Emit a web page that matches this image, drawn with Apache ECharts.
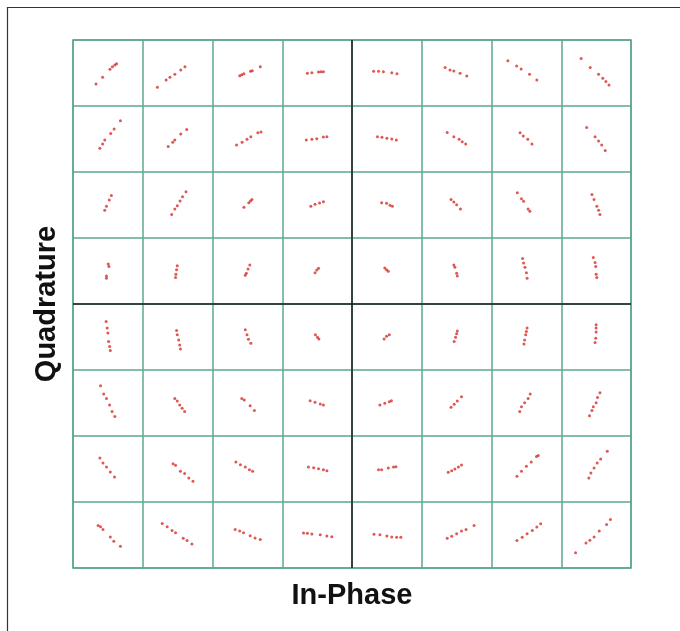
<!DOCTYPE html>
<html>
<head>
<meta charset="utf-8">
<script src="https://cdn.jsdelivr.net/npm/echarts@6/dist/echarts.min.js"></script>
<style>html,body{margin:0;padding:0;background:#fff}#c{width:680px;height:631px}</style>
</head>
<body>
<div id="c"></div>
<script>
// constellation levels (I and Q)
var levels = [-7, -5, -3, -1, 1, 3, 5, 7];
// per-row point offsets [dI, dQ], one list per cell (left to right)
var rowQ7 = [
  [[-0.34,-0.33],[-0.15,-0.13],[0.06,0.11],[0.13,0.19],[0.20,0.24],[0.25,0.28]],
  [[-0.58,-0.43],[-0.33,-0.21],[-0.22,-0.13],[-0.08,-0.04],[0.09,0.09],[0.21,0.19]],
  [[-0.22,-0.08],[-0.16,-0.05],[-0.10,-0.02],[0.09,0.05],[0.14,0.07],[0.37,0.19]],
  [[-0.28,-0.01],[-0.15,0.01],[0.04,0.03],[0.11,0.04],[0.18,0.04]],
  [[-0.38,0.05],[-0.24,0.05],[-0.10,0.04],[0.14,0.01],[0.29,-0.02]],
  [[-0.33,0.17],[-0.19,0.09],[-0.08,0.06],[0.10,-0.01],[0.29,-0.09]],
  [[-0.53,0.37],[-0.28,0.21],[-0.15,0.12],[0.09,-0.04],[0.30,-0.21]],
  [[-0.43,0.44],[-0.17,0.17],[0.07,-0.04],[0.19,-0.16],[0.28,-0.26],[0.37,-0.36]]
];
var rowQ5 = [
  [[-0.23,-0.28],[-0.15,-0.15],[-0.09,-0.03],[0.08,0.17],[0.18,0.30],[0.36,0.55]],
  [[-0.27,-0.23],[-0.14,-0.10],[-0.08,-0.03],[0.09,0.15],[0.26,0.29]],
  [[-0.31,-0.18],[-0.15,-0.10],[-0.01,-0.01],[0.10,0.07],[0.30,0.19],[0.39,0.21]],
  [[-0.31,-0.03],[-0.15,-0.01],[-0.01,0.01],[0.18,0.06],[0.28,0.07]],
  [[-0.27,0.07],[-0.14,0.05],[0,0.02],[0.14,0],[0.27,-0.03]],
  [[-0.27,0.20],[-0.08,0.07],[0.07,-0.01],[0.16,-0.08],[0.26,-0.15]],
  [[-0.18,0.19],[-0.09,0.09],[0.04,-0.01],[0.16,-0.15]],
  [[-0.27,0.35],[-0.03,0.07],[0.07,-0.06],[0.16,-0.18],[0.26,-0.35]]
];
var rowQ3 = [
  [[-0.09,-0.16],[-0.04,-0.04],[0.04,0.15],[0.10,0.29]],
  [[-0.17,-0.29],[-0.08,-0.12],[-0.01,-0.02],[0.07,0.12],[0.14,0.25],[0.24,0.40]],
  [[-0.10,-0.07],[0.04,0.07],[0.09,0.12],[0.13,0.17]],
  [[-0.18,-0.04],[-0.06,0.02],[0.07,0.06],[0.18,0.10]],
  [[-0.15,0.07],[-0.01,0.05],[0.09,-0.01],[0.16,-0.04]],
  [[-0.16,0.17],[-0.08,0.09],[0,0.01],[0.11,-0.12]],
  [[-0.26,0.37],[-0.14,0.19],[-0.08,0.11],[0.05,-0.12],[0.10,-0.19]],
  [[-0.12,0.32],[-0.06,0.17],[0.02,-0.04],[0.07,-0.16],[0.11,-0.29]]
];
var rowQ1 = [
  [[0.01,0.21],[0.03,0.14],[-0.04,-0.15],[-0.04,-0.22]],
  [[-0.01,0.16],[-0.03,0.04],[-0.05,-0.10],[-0.06,-0.20]],
  [[0.07,0.18],[0.02,0.06],[-0.03,-0.07],[-0.06,-0.13]],
  [[-0.06,-0.05],[-0.01,0.03],[0.04,0.08]],
  [[-0.06,0.09],[-0.01,0.04],[0.04,-0.01]],
  [[-0.08,0.18],[-0.05,0.11],[0,-0.07],[0.02,-0.15]],
  [[-0.11,0.38],[-0.08,0.24],[-0.04,0.11],[0,-0.05],[0.02,-0.22]],
  [[-0.08,0.41],[-0.03,0.26],[-0.01,0.14],[0,-0.10],[0.02,-0.20]]
];
var rowQm1 = [
  [[-0.05,0.47],[-0.02,0.27],[0,0.12],[0.02,-0.14],[0.05,-0.29],[0.07,-0.41]],
  [[-0.03,0.20],[-0.01,0.07],[0.03,-0.09],[0.06,-0.24],[0.08,-0.36]],
  [[-0.06,0.22],[-0.01,0.07],[0.03,-0.07],[0.10,-0.19]],
  [[-0.05,0.07],[0.01,-0.01],[0.05,-0.06]],
  [[-0.08,-0.06],[-0.01,0.02],[0.07,0.07]],
  [[-0.07,-0.14],[-0.03,-0.01],[0,0.10],[0.02,0.18]],
  [[-0.07,-0.21],[-0.05,-0.09],[-0.02,0.07],[0,0.17],[0.02,0.27]],
  [[-0.03,-0.17],[-0.01,-0.04],[0,0.15],[0,0.27],[0,0.37]]
];
var rowQm3 = [
  [[-0.21,0.52],[-0.12,0.27],[-0.04,0.14],[0.05,-0.06],[0.12,-0.26],[0.20,-0.41]],
  [[-0.08,0.14],[-0.01,0.06],[0.06,-0.06],[0.13,-0.16],[0.20,-0.26]],
  [[-0.16,0.14],[-0.09,0.09],[0.08,-0.08],[0.20,-0.23]],
  [[-0.20,0.07],[-0.06,0.02],[0.09,-0.03],[0.18,-0.06]],
  [[-0.20,-0.06],[-0.06,-0.01],[0.07,0.04],[0.13,0.07]],
  [[-0.16,-0.13],[-0.07,-0.04],[0.02,0.06],[0.14,0.19]],
  [[-0.19,-0.26],[-0.14,-0.11],[-0.05,0.01],[0.05,0.14],[0.11,0.27]],
  [[-0.19,-0.39],[-0.12,-0.23],[-0.08,-0.11],[0,0.01],[0.04,0.17],[0.11,0.31]]
];
var rowQm5 = [
  [[-0.23,0.33],[-0.14,0.18],[-0.04,0.06],[0.07,-0.09],[0.19,-0.24]],
  [[-0.13,0.16],[-0.06,0.11],[0.08,-0.07],[0.20,-0.14],[0.32,-0.27],[0.44,-0.37]],
  [[-0.33,0.21],[-0.20,0.13],[-0.06,0.06],[0.06,-0.02],[0.15,-0.07]],
  [[-0.25,0.06],[-0.10,0.04],[0.04,0.01],[0.18,-0.02],[0.28,-0.05]],
  [[-0.24,-0.02],[-0.15,-0.02],[0.04,0.03],[0.19,0.06],[0.26,0.07]],
  [[-0.24,-0.10],[-0.14,-0.05],[-0.05,0],[0.05,0.06],[0.14,0.12]],
  [[-0.27,-0.22],[-0.14,-0.07],[0,0.08],[0.14,0.21],[0.29,0.38],[0.34,0.41]],
  [[-0.21,-0.27],[-0.15,-0.12],[-0.06,0.03],[0.03,0.18],[0.13,0.30],[0.32,0.54]]
];
var rowQm7 = [
  [[-0.28,0.29],[-0.21,0.25],[-0.14,0.17],[0.07,-0.06],[0.17,-0.19],[0.36,-0.34]],
  [[-0.44,0.35],[-0.30,0.25],[-0.16,0.14],[-0.06,0.07],[0.16,-0.10],[0.27,-0.17],[0.41,-0.27]],
  [[-0.35,0.17],[-0.22,0.12],[-0.11,0.07],[0.08,-0.02],[0.22,-0.09],[0.37,-0.14]],
  [[-0.39,0.06],[-0.28,0.05],[-0.15,0.03],[0.09,0.01],[0.28,-0.03],[0.42,-0.05]],
  [[-0.37,0.02],[-0.20,0.01],[0,-0.03],[0.14,-0.06],[0.28,-0.07],[0.40,-0.07]],
  [[-0.27,-0.10],[-0.14,-0.04],[0,0.04],[0.14,0.12],[0.27,0.17],[0.50,0.29]],
  [[-0.27,-0.17],[-0.12,-0.07],[0.02,0.04],[0.17,0.14],[0.30,0.24],[0.41,0.34]],
  [[-0.59,-0.54],[-0.29,-0.24],[-0.18,-0.16],[-0.06,-0.06],[0.09,0.12],[0.30,0.32],[0.41,0.47]]
];
var rows = [[7,rowQ7],[5,rowQ5],[3,rowQ3],[1,rowQ1],[-1,rowQm1],[-3,rowQm3],[-5,rowQm5],[-7,rowQm7]];
var points = [];
rows.forEach(function (r) {
  r[1].forEach(function (cell, c) {
    cell.forEach(function (p) { points.push([levels[c] + p[0], r[0] + p[1]]); });
  });
});

var chart = echarts.init(document.getElementById('c'), null, {renderer: 'canvas'});
var gridColor = '#5aa98b';
chart.setOption({
  backgroundColor: '#ffffff',
  animation: false,
  graphic: [{
    type: 'rect', shape: {x: 7.5, y: 7.5, width: 720, height: 700},
    style: {fill: 'none', stroke: '#333', lineWidth: 1.2}, z: -10
  }],
  grid: {left: 73, right: 49, top: 40, bottom: 63, show: true, borderColor: gridColor, borderWidth: 1.5},
  xAxis: {
    type: 'value', min: -8, max: 8, interval: 2,
    axisLine: {show: false}, axisTick: {show: false}, axisLabel: {show: false},
    splitLine: {show: true, lineStyle: {color: gridColor, width: 1.5}},
    name: 'In-Phase', nameLocation: 'middle', nameGap: 13,
    nameTextStyle: {fontFamily: 'Liberation Sans, Arial, sans-serif', fontWeight: 'bold', fontSize: 29, color: '#111'}
  },
  yAxis: {
    type: 'value', min: -8, max: 8, interval: 2,
    axisLine: {show: false}, axisTick: {show: false}, axisLabel: {show: false},
    splitLine: {show: true, lineStyle: {color: gridColor, width: 1.5}},
    name: 'Quadrature', nameLocation: 'middle', nameGap: 12, nameRotate: 90,
    nameTextStyle: {fontFamily: 'Liberation Sans, Arial, sans-serif', fontWeight: 'bold', fontSize: 29, color: '#111'}
  },
  series: [{
    type: 'scatter',
    data: points,
    symbol: 'circle',
    symbolSize: 3,
    itemStyle: {color: '#d4302a'},
    markLine: {
      silent: true, symbol: 'none', label: {show: false},
      lineStyle: {color: '#1a1a1a', width: 1.5, type: 'solid'},
      data: [{xAxis: 0}, {yAxis: 0}]
    }
  }]
});
</script>
</body>
</html>
